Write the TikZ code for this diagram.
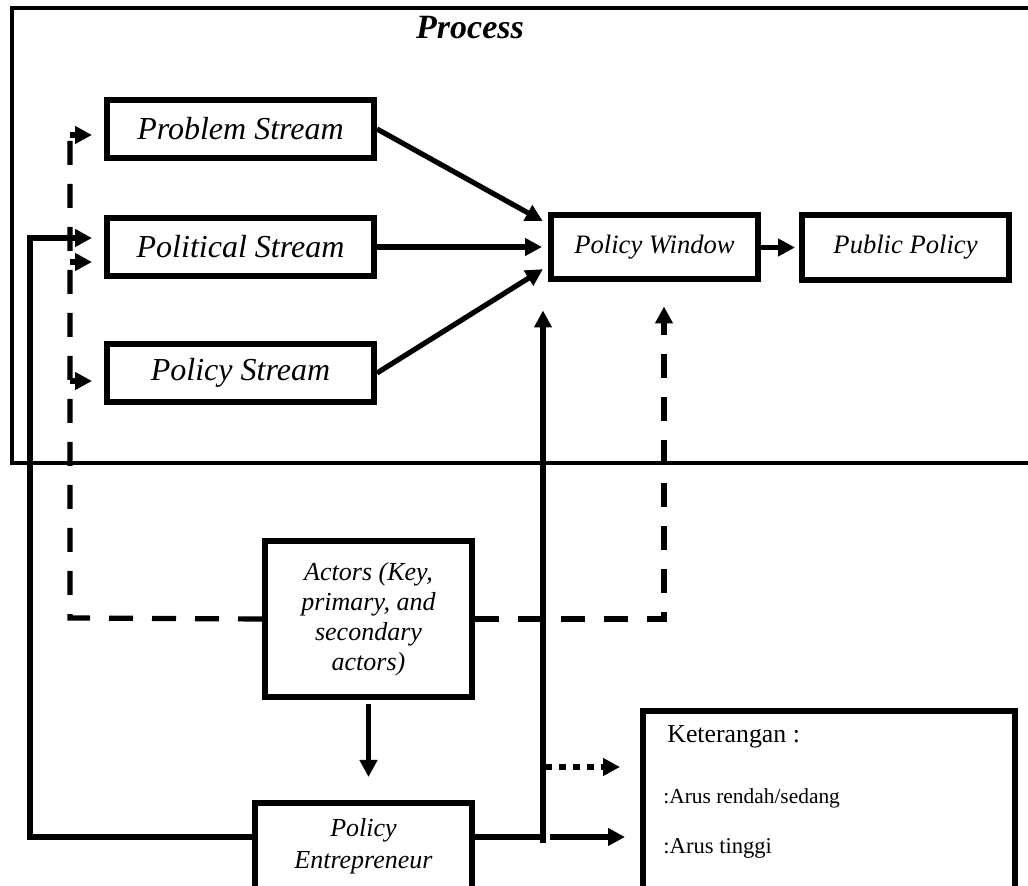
\documentclass[tikz,border=0pt]{standalone}
\usepackage{fontspec}
\setmainfont{Liberation Serif}
\usetikzlibrary{arrows.meta, calc}

\begin{document}
\begin{tikzpicture}[x=0.5pt, y=-0.5pt]
\tikzstyle{box}=[draw, line width=3pt, inner sep=2pt, align=center]
\tikzstyle{strm}=[box, minimum width=133.5pt, minimum height=29pt,
                        font=\fontsize{16}{19}\selectfont\itshape]
\tikzstyle{wbox}=[box, minimum width=103.5pt, minimum height=32pt,
                        font=\fontsize{13.3}{16}\selectfont\itshape]
\tikzstyle{arr}=[line width=2.6pt, -{Triangle[length=8.5pt,width=8.5pt]}]
\tikzstyle{dsh}=[line width=2.6pt, dash pattern=on 12pt off 9.5pt]
\tikzstyle{dots}=[line width=3pt, dash pattern=on 3.5pt off 3.5pt]
\useasboundingbox (0,0) rectangle (1028,886);
\clip (0,0) rectangle (1028,886);

	\draw[line width=2.4pt] (1028,8) -- (12,8) -- (12,463) -- (1028,463);
	\node[font=\fontsize{17}{20}\selectfont\bfseries\itshape] (proc) at (470,28) {Process};

	\node[strm] (prob) at (240.5,129) {Problem Stream};
	\node[strm] (pol) at (240.5,247) {Political Stream};
	\node[strm] (polst) at (240.5,373) {Policy Stream};
	\node[wbox] (win) at (654.5,247.5) {Policy Window};
	\node[wbox, minimum height=32.5pt] (pub) at (905.5,247.5) {Public Policy};
	\node[wbox, minimum height=78pt, font=\fontsize{13}{15}\selectfont\itshape] (act) at (368.5,619)
		{Actors (Key,\\primary, and\\secondary\\actors)};
	\node[wbox, minimum width=108.5pt, minimum height=43pt, font=\fontsize{13}{16}\selectfont\itshape] (pe) at (363.5,846)
		{Policy\\Entrepreneur};
	\node[box, minimum width=186pt, minimum height=100pt] (ket) at (829,811) {};
	\node[anchor=west, inner sep=0pt, font=\fontsize{12.9}{15}\selectfont] (ket0) at (667,737) {Keterangan :};
	\node[anchor=west, inner sep=0pt, font=\fontsize{10.7}{13}\selectfont] (ket1) at (663,798) {:Arus rendah/sedang};
	\node[anchor=west, inner sep=0pt, font=\fontsize{11.3}{13}\selectfont] (ket2) at (663,848) {:Arus tinggi};

	\coordinate (b1) at (70,135);
	\coordinate (b2) at (70,262);
	\coordinate (b3) at (70,381);
	\coordinate (dl) at (70,618);
	\coordinate (sl) at (30,238);
	\coordinate (rv) at (543,843);
	\coordinate (lg1) at (545,767);
	\coordinate (lg2) at (550,837);
	\coordinate (peL) at ([yshift=4.5pt]pe.west);
	\coordinate (peR) at ([yshift=4.5pt]pe.east);

\foreach \s/\d in {prob/-23.5,polst/18.5}{\draw[arr, shorten >=3pt] (\s.east) -- ($(win.west)+(0,\d)$);}
\draw[arr, shorten >=3pt] (pol.east) -- (pol.east -| win.west);
\draw[arr, shorten >=2pt] (win.east) -- (pub.west);

\draw[dsh] (act.west) -- (dl) -- (b1);
\foreach \b/\n in {b1/prob,b2/pol,b3/polst}{\draw[arr, shorten >=6pt] (\b) -- (\b -| \n.west);}
\draw[dsh, arr, dash pattern=on 12pt off 9.5pt, shorten >=12pt] (act.east) -| ($(win.south)+(9.5,0)$);

\draw[arr, shorten >=6pt] (peL) -| (sl) -- (sl -| pol.west);
\draw[line width=2.6pt] (peR) -- (peR -| rv);
\draw[arr, line width=2.8pt, shorten >=14pt] (rv) -- (rv |- win.south);
\draw[arr, shorten >=11.5pt, shorten <=2pt] (act.south) -- (act.south |- pe.north);

\draw[dots, -{Triangle[length=8.5pt,width=8.5pt]}, shorten >=10pt] (lg1) -- (lg1 -| ket.west);
\draw[arr, shorten >=7.5pt] (lg2) -- (lg2 -| ket.west);

\end{tikzpicture}
\end{document}
